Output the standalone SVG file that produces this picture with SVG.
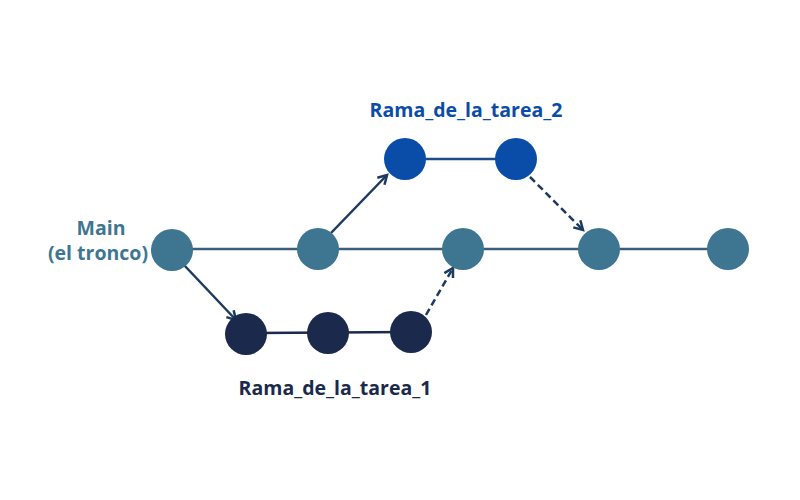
<svg xmlns="http://www.w3.org/2000/svg" width="800" height="500" viewBox="0 0 800 500">
<style>
.lbl{font-family:"Open Sans","Noto Sans",sans-serif;font-weight:700;font-size:19.5px;text-anchor:middle}
.main{fill:#3E7692}
.t2{fill:#0A4DA8}
.t1{fill:#1B2A4C}
.ln{stroke-width:2.5;fill:none}
.arr{stroke:#1D3A5F;stroke-width:2.5;fill:none}
.dash{stroke-dasharray:7,4}
</style>
<defs>
<marker id="ah" viewBox="0 0 10 10" refX="8" refY="5" markerWidth="5" markerHeight="5" orient="auto" markerUnits="strokeWidth">
<path d="M1,1 L8,5 L1,9" fill="none" stroke="#1D3A5F" stroke-width="2"/>
</marker>
</defs>
<rect width="800" height="500" fill="#ffffff"/>
<g id="connectors">
<line class="ln" x1="172" y1="249" x2="728" y2="249" stroke="#3A5F7A"/>
<line class="ln" x1="405" y1="159" x2="516" y2="159" stroke="#1E4A87"/>
<line class="ln" x1="246" y1="333" x2="411" y2="332" stroke="#1B2A4C"/>
<line class="arr" x1="184" y1="265" x2="236" y2="320" marker-end="url(#ah)"/>
<line class="arr" x1="331" y1="233" x2="387" y2="175" marker-end="url(#ah)"/>
<line class="arr dash" x1="530" y1="177" x2="583" y2="230" marker-end="url(#ah)"/>
<line class="arr dash" x1="426" y1="315" x2="453" y2="268" marker-end="url(#ah)"/>
</g>
<g id="main-1"><circle class="main" cx="172" cy="250" r="21"/></g>
<g id="main-2"><circle class="main" cx="318" cy="249" r="21"/></g>
<g id="main-3"><circle class="main" cx="463" cy="249" r="21"/></g>
<g id="main-4"><circle class="main" cx="599" cy="249" r="21"/></g>
<g id="main-5"><circle class="main" cx="728" cy="249" r="21"/></g>
<g id="t2-1"><circle class="t2" cx="405" cy="159" r="21"/></g>
<g id="t2-2"><circle class="t2" cx="516" cy="159" r="21"/></g>
<g id="t1-1"><circle class="t1" cx="246" cy="334" r="21"/></g>
<g id="t1-2"><circle class="t1" cx="328" cy="333" r="21"/></g>
<g id="t1-3"><circle class="t1" cx="411" cy="332" r="21"/></g>
<g id="label-main">
<text class="lbl main" x="101" y="235">Main</text>
<text class="lbl main" x="98" y="260">(el tronco)</text>
</g>
<g id="label-t2"><text class="lbl t2" x="466" y="117">Rama_de_la_tarea_2</text></g>
<g id="label-t1"><text class="lbl t1" x="335" y="395">Rama_de_la_tarea_1</text></g>
</svg>
